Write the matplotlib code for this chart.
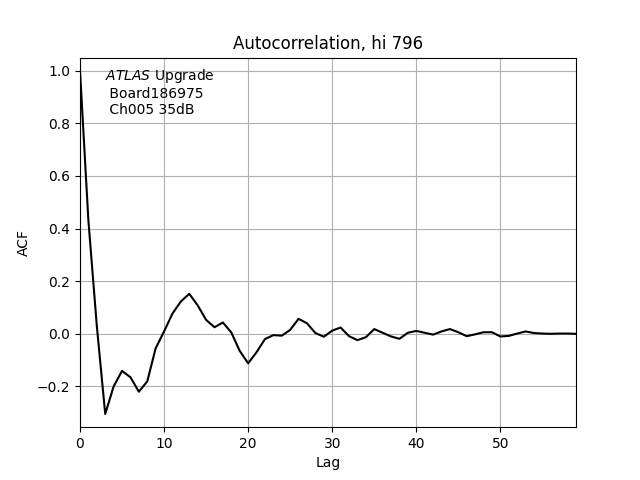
import matplotlib
matplotlib.use("Agg")
import matplotlib.pyplot as plt
import numpy as np

acf = [1.0, 0.43, 0.03, -0.305, -0.2, -0.141, -0.165, -0.22, -0.181, -0.055,
       0.009, 0.077, 0.123, 0.152, 0.108, 0.053, 0.025, 0.043, 0.005, -0.065,
       -0.112, -0.07, -0.02, -0.005, -0.007, 0.015, 0.057, 0.04, 0.003, -0.011,
       0.012, 0.024, -0.009, -0.024, -0.013, 0.018, 0.004, -0.01, -0.019, 0.004,
       0.011, 0.004, -0.003, 0.009, 0.018, 0.006, -0.009, -0.002, 0.006, 0.006,
       -0.01, -0.008, 0.001, 0.009, 0.003, 0.001, 0.0, 0.001, 0.001, 0.0]
lags = np.arange(len(acf))

fig, ax = plt.subplots(figsize=(6.4, 4.8), dpi=100)
ax.plot(lags, acf, color="black", linewidth=1.5)
ax.set_xlim(0, len(acf) - 1)
ax.set_ylim(-0.355, 1.05)
ax.grid(True)
ax.set_title("Autocorrelation, hi 796")
ax.set_xlabel("Lag")
ax.set_ylabel("ACF")
ax.text(0.05, 0.975, r"$\it{ATLAS}$ Upgrade" + "\n Board186975\n Ch005 35dB",
        transform=ax.transAxes, va="top", ha="left")
fig.savefig("out.png", dpi=100)
